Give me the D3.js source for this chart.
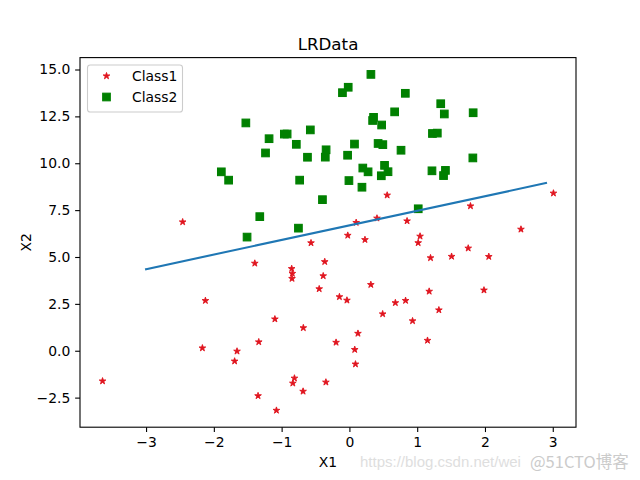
<!DOCTYPE html>
<html><head><meta charset="utf-8">
<script src="https://cdn.jsdelivr.net/npm/d3@7"></script>
<style>html,body{margin:0;padding:0;background:#fff;}svg{display:block;}</style>
</head><body>
<svg id="c" width="640" height="480"></svg>
<script>
const class1X = [-1.395634,0.406704,-2.460150,0.850433,1.176813,-0.566606,0.931635,-0.024205,-0.036453,-0.196949,1.014459,1.985298,-1.693453,-0.346811,-2.124484,-3.642001,0.315985,-0.386323,0.556921,-1.347803,1.196604,-0.445678,1.042222,1.152083,0.828534,-0.683565,0.229456,1.507278,0.099671,1.785928,-0.364009,-0.841722,0.490426,-0.810823,2.530777,-1.337472,-0.147324,-1.658086,1.319944,2.056216,-0.851633,-1.076637,3.010150,-1.099458,-0.834872,-0.846637,1.752842,0.078557,0.089392,0.126117,-0.679797,0.677983,-2.168791];
const class1Y = [4.662541,7.067335,6.866805,6.920334,3.167020,5.749003,1.589505,6.151823,2.690988,0.444165,5.754399,3.230619,-0.557540,-1.678730,2.672471,-1.618087,3.523953,3.989286,8.294984,-2.406051,4.951851,3.297303,6.105155,0.548467,2.676045,-2.166125,5.921938,5.027866,6.835839,7.718645,4.747300,4.119083,1.960539,-1.466018,6.476801,0.468339,2.874846,-0.027255,2.171228,5.019981,4.375691,-3.181888,8.401766,1.688274,-1.733869,3.849075,5.468166,0.059736,-0.715300,0.922311,1.220530,2.556666,0.143632];
const class2X = [-0.017612,-0.752157,-1.322371,0.423363,0.667394,0.569411,-0.026632,1.347183,-1.781871,-0.576525,1.217916,-0.733928,1.416614,1.224863,0.275221,0.470575,-1.889567,-1.527893,-1.185247,-0.618787,-1.237728,-0.959885,0.492911,0.184992,-0.355715,-0.397822,0.824839,-0.344008,-0.918801,-0.007194,0.356107,0.342578,1.296683,0.475487,-0.783277,0.074798,-0.102781,0.518389,1.015399,-1.510047,1.821096,1.400102,1.825662,0.197445,0.761349,1.388610,0.317029];
const class2Y = [14.053064,6.538620,7.152853,11.054677,12.741452,9.548755,10.427743,13.175500,9.097953,11.778922,9.597015,9.098687,9.619232,11.587360,9.543647,9.332488,9.542662,12.150579,11.309318,10.320986,10.549033,11.555336,10.993324,8.721488,10.325976,8.058397,13.730343,10.717485,11.560217,9.075792,12.447863,12.281162,11.607559,12.040035,11.009725,11.023650,13.763651,9.887035,7.571882,6.061992,10.283990,12.628781,12.693808,9.744638,10.693862,9.341997,14.739025];
const lineX = [-3.0, 2.9];
const lineY = [4.352, 8.943];
const xTicks = [-3,-2,-1,0,1,2,3];
const yTicks = [-2.5,0.0,2.5,5.0,7.5,10.0,12.5,15.0];
const seriesNames = ["Class1","Class2"];

const svg = d3.select("#c");
const L = 80, T = 57.6, W = 496, H = 369.6;
const font = "DejaVu Sans, sans-serif";
const x = d3.scaleLinear().domain([-3.9746, 3.3428]).range([L, L+W]);
const y = d3.scaleLinear().domain([-4.0779, 15.6350]).range([T+H, T]);

const red = "#e0141e", green = "#008000";
const starPath = (() => {
  const r = 3.5, ri = r*0.381966; let p = [];
  for (let i=0;i<10;i++){ const a = -Math.PI/2 + i*Math.PI/5; const rr = i%2? ri : r; p.push([rr*Math.cos(a), rr*Math.sin(a)]); }
  return "M" + p.map(d=>d.join(",")).join("L") + "Z";
})();
const sq = 7.6;

const g = svg.append("g");
g.selectAll("path.s1").data(class1X.map((v,i)=>[v,class1Y[i]])).enter().append("path")
  .attr("d", starPath).attr("transform", d=>`translate(${x(d[0])},${y(d[1])})`)
  .attr("fill", red).attr("stroke", red).attr("stroke-width", 0.9).attr("stroke-linejoin","round");
g.selectAll("rect.s2").data(class2X.map((v,i)=>[v,class2Y[i]])).enter().append("rect")
  .attr("x", d=>x(d[0])-sq/2).attr("y", d=>y(d[1])-sq/2).attr("width", sq).attr("height", sq)
  .attr("fill", green).attr("stroke", green).attr("stroke-width", 1.1);
svg.append("path").datum(lineX.map((v,i)=>[v,lineY[i]]))
  .attr("d", d3.line().x(d=>x(d[0])).y(d=>y(d[1])))
  .attr("fill","none").attr("stroke","#1f77b4").attr("stroke-width",2.08).attr("stroke-linecap","square");

const xa = svg.append("g").attr("transform",`translate(0,${T+H})`)
  .call(d3.axisBottom(x).tickValues(xTicks).tickSize(4.86).tickPadding(4.9).tickFormat(d=>d<0?"\u2212"+Math.abs(d):String(d)));
const ya = svg.append("g").attr("transform",`translate(${L},0)`)
  .call(d3.axisLeft(y).tickValues(yTicks).tickSize(4.86).tickPadding(4.9).tickFormat(d=>{const s=Math.abs(d).toFixed(1);return d<0?"\u2212"+s:s;}));
[xa,ya].forEach(a=>{
  a.select(".domain").remove();
  a.selectAll(".tick line").attr("stroke","#000").attr("stroke-width",1.1);
  a.selectAll(".tick text").attr("fill","#000").style("font-family",font).style("font-size","13.9px");
});
svg.append("rect").attr("x",L).attr("y",T).attr("width",W).attr("height",H)
  .attr("fill","none").attr("stroke","#000").attr("stroke-width",1.1);

svg.append("text").attr("x",L+W/2).attr("y",49.5).attr("text-anchor","middle")
  .style("font-family",font).style("font-size","16.7px").text("LRData");
svg.append("text").attr("x",L+W/2).attr("y",467).attr("text-anchor","middle")
  .style("font-family",font).style("font-size","13.9px").text("X1");
svg.append("text").attr("transform",`translate(31,${T+H/2}) rotate(-90)`).attr("text-anchor","middle")
  .style("font-family",font).style("font-size","13.9px").text("X2");

const lg = svg.append("g");
lg.append("rect").attr("x",87.5).attr("y",65).attr("width",95).attr("height",47).attr("rx",2.8)
  .attr("fill","#fff").attr("fill-opacity",0.8).attr("stroke","#cccccc").attr("stroke-width",1.1);
lg.append("path").attr("d",starPath).attr("transform","translate(106.5,76)")
  .attr("fill",red).attr("stroke",red).attr("stroke-width",0.9).attr("stroke-linejoin","round");
lg.append("rect").attr("x",106.5-sq/2).attr("y",97-sq/2).attr("width",sq).attr("height",sq)
  .attr("fill",green).attr("stroke",green).attr("stroke-width",1.1);
seriesNames.forEach((n,i)=>{
  lg.append("text").attr("x",132).attr("y",76+i*21).attr("dy","0.36em")
    .style("font-family",font).style("font-size","13.9px").text(n);
});

svg.append("text").attr("x",360).attr("y",467).style("font-family","Liberation Sans, Arial, sans-serif").style("font-size","15px")
  .attr("fill","#dedede").text("https://blog.csdn.net/wei");
svg.append("text").attr("x",530).attr("y",468).style("font-family","Noto Sans CJK SC, "+font).style("font-size","16.5px")
  .attr("fill","#cbcbcb").text("@51CTO博客");
</script>
</body></html>
